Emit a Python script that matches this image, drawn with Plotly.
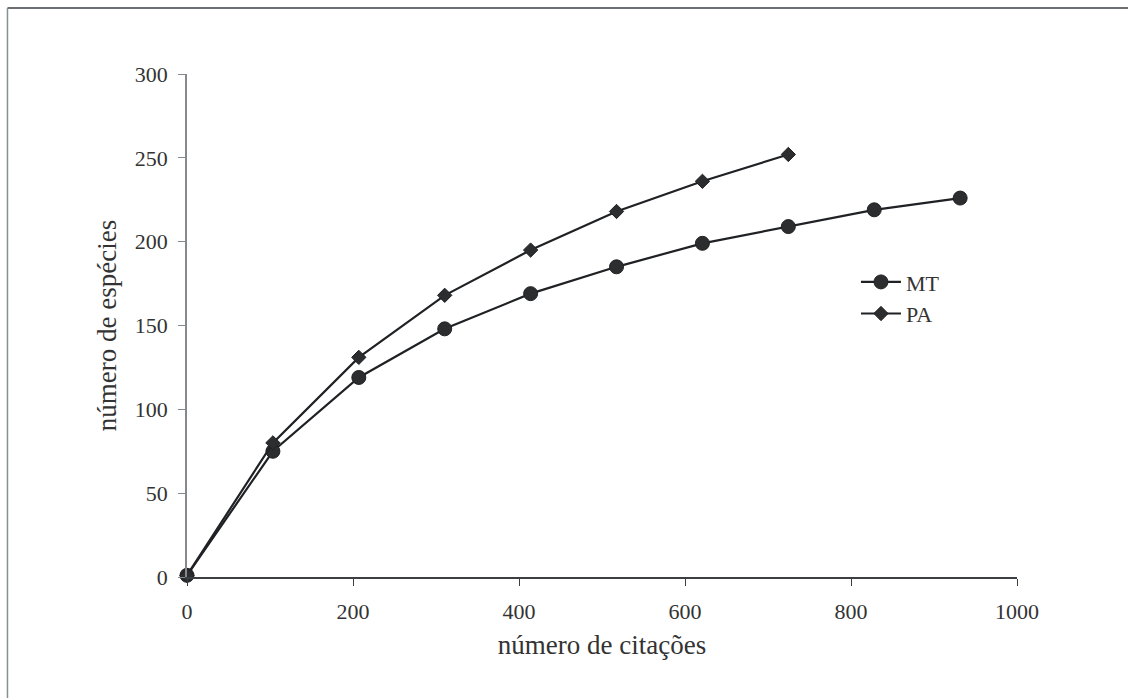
import plotly.graph_objects as go

# Data
x_mt = [0, 103.5, 207, 310.5, 414, 517.5, 621, 724.5, 828, 931.5]
y_mt = [1, 75, 119, 148, 169, 185, 199, 209, 219, 226]
x_pa = [0, 103.5, 207, 310.5, 414, 517.5, 621, 724.5]
y_pa = [1, 80, 131, 168, 195, 218, 236, 252]
series_names = ["MT", "PA"]
x_ticks = [0, 200, 400, 600, 800, 1000]
y_ticks = [0, 50, 100, 150, 200, 250, 300]

FONT = "Liberation Serif"
TXT = "#333333"

fig = go.Figure()
fig.add_trace(go.Scatter(
    x=x_mt, y=y_mt, name=series_names[0], mode="lines+markers",
    line=dict(color="#1f2124", width=2.2),
    marker=dict(symbol="circle", size=14, color="#2b2d2f",
                line=dict(color="#1f2124", width=1)),
    cliponaxis=False,
))
fig.add_trace(go.Scatter(
    x=x_pa, y=y_pa, name=series_names[1], mode="lines+markers",
    line=dict(color="#1f2124", width=2.2),
    marker=dict(symbol="diamond", size=11, color="#2b2d2f",
                line=dict(color="#1f2124", width=1)),
    cliponaxis=False,
))

# outer frame (top and left edges visible in reference)
fig.add_shape(type="line", xref="paper", yref="paper",
              x0=-0.2163, x1=1.14, y0=1.1312, y1=1.1312,
              line=dict(color="#3a3f44", width=1.5))
fig.add_shape(type="line", xref="paper", yref="paper",
              x0=-0.2163, x1=-0.2163, y0=-0.25, y1=1.1312,
              line=dict(color="#8a8f93", width=1.5))

fig.update_layout(
    width=1128, height=698,
    margin=dict(l=187, r=111, t=74, b=121, autoexpand=False),
    paper_bgcolor="white", plot_bgcolor="white",
    font=dict(family=FONT, size=22, color=TXT),
    showlegend=True,
    legend=dict(x=0.806, y=0.628, xanchor="left", yanchor="top",
                font=dict(family=FONT, size=22, color=TXT),
                bgcolor="rgba(0,0,0,0)", itemwidth=40),
    xaxis=dict(range=[0, 1000], tickvals=x_ticks, showgrid=False, zeroline=False,
               showline=True, linecolor="#3a3f44", linewidth=1.5,
               ticks="outside", ticklen=7, tickcolor="#3a3f44", tickwidth=1,
               ticklabelstandoff=7,
               tickfont=dict(family=FONT, size=22, color=TXT),
               title=dict(text="número de citações", standoff=12,
                          font=dict(family=FONT, size=27, color=TXT))),
    yaxis=dict(range=[0, 300], tickvals=y_ticks, showgrid=False, zeroline=False,
               showline=True, linecolor="#85898d", linewidth=1.5,
               ticks="outside", ticklen=7, tickcolor="#85898d", tickwidth=1,
               ticklabelstandoff=6,
               tickfont=dict(family=FONT, size=22, color=TXT),
               title=dict(text="número de espécies", standoff=10,
                          font=dict(family=FONT, size=27, color=TXT))),
)

fig.write_html("out.html", config={"displayModeBar": False},
               post_script="document.body.style.margin='0px';document.body.style.overflow='hidden';")
